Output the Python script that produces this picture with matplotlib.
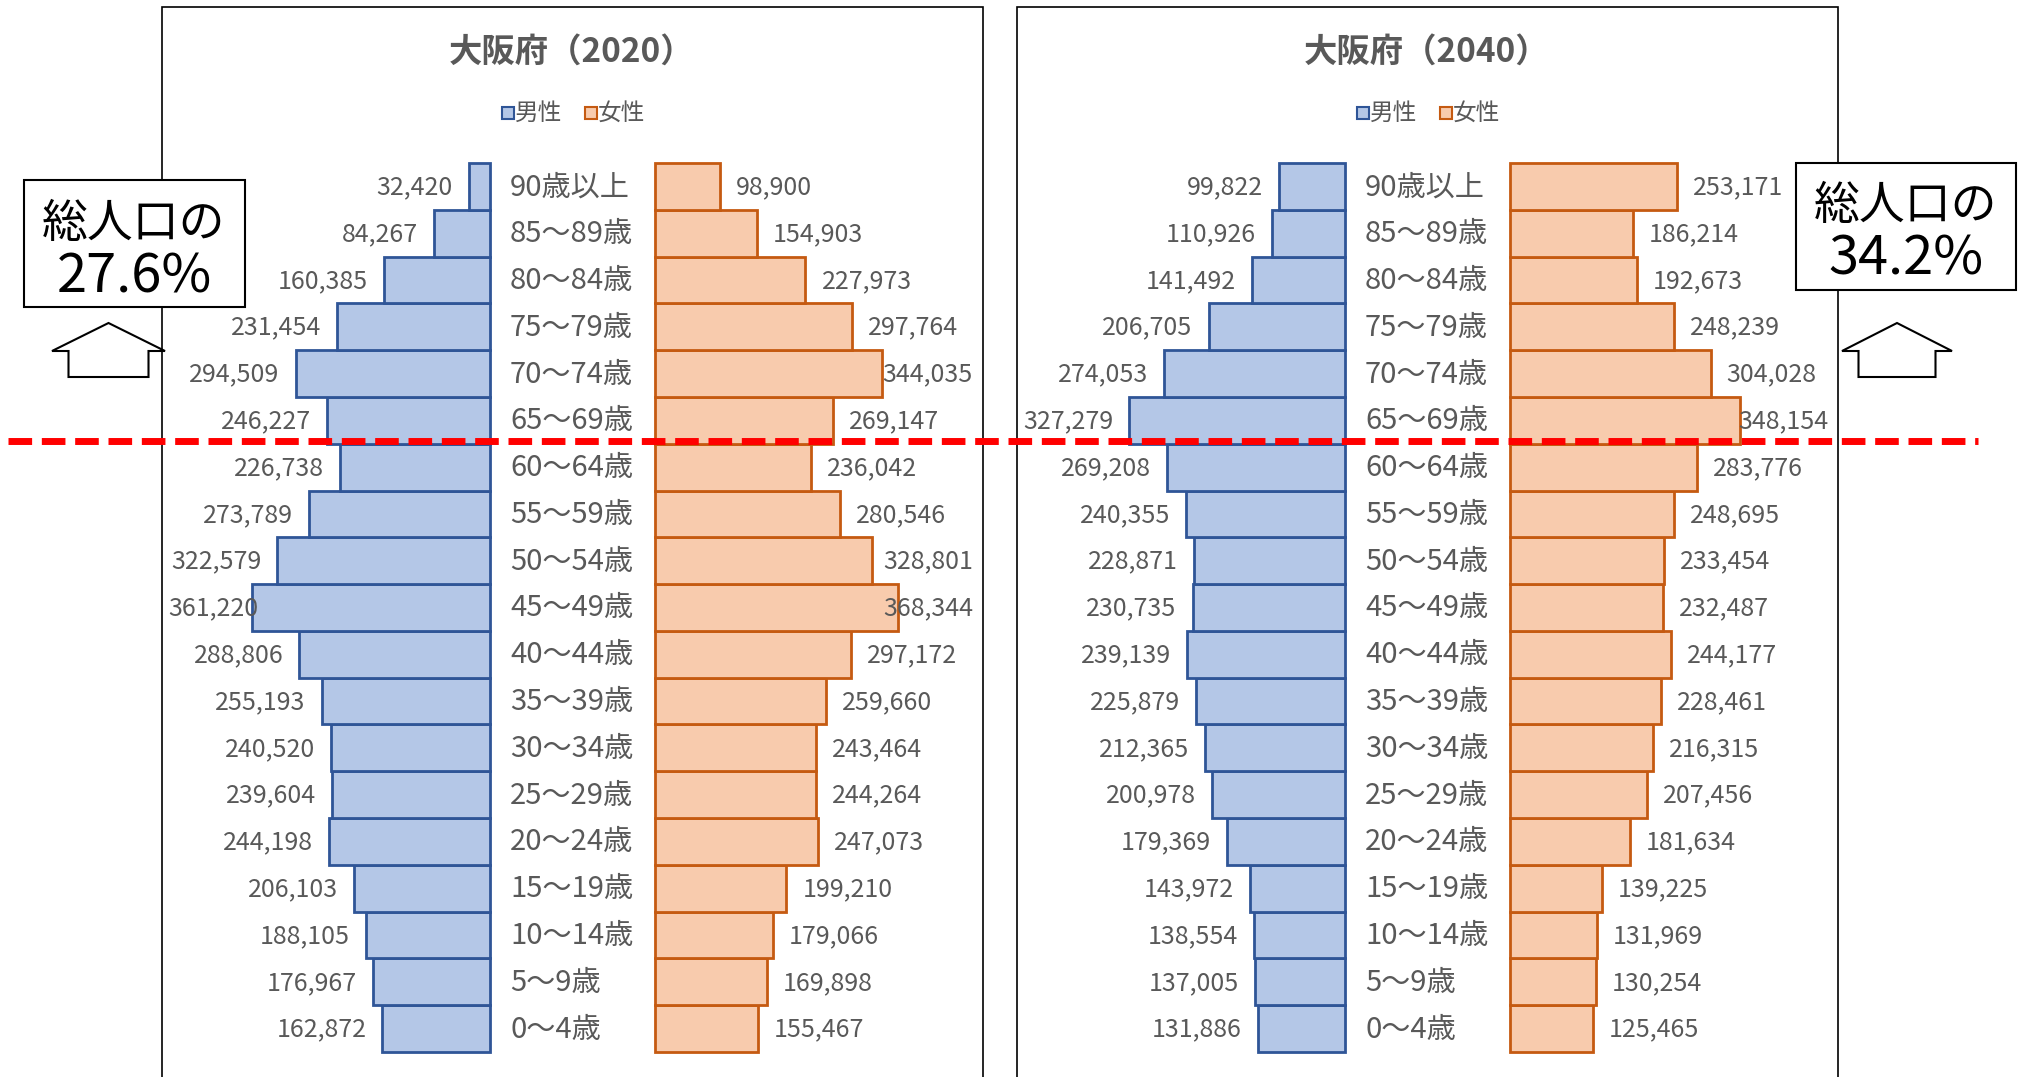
import matplotlib
matplotlib.use('Agg')
import matplotlib.pyplot as plt
from matplotlib.patches import Rectangle, Polygon
from matplotlib.lines import Line2D
from matplotlib.transforms import IdentityTransform

plt.rcParams['font.family'] = ['Noto Sans CJK JP', 'DejaVu Sans']
plt.rcParams['lines.scale_dashes'] = False

# 年齢階級（下から上へ）
ages = ['0～4歳', '5～9歳', '10～14歳', '15～19歳', '20～24歳', '25～29歳',
        '30～34歳', '35～39歳', '40～44歳', '45～49歳', '50～54歳', '55～59歳',
        '60～64歳', '65～69歳', '70～74歳', '75～79歳', '80～84歳', '85～89歳',
        '90歳以上']

male_2020 = [162872, 176967, 188105, 206103, 244198, 239604, 240520, 255193,
             288806, 361220, 322579, 273789, 226738, 246227, 294509, 231454,
             160385, 84267, 32420]
female_2020 = [155467, 169898, 179066, 199210, 247073, 244264, 243464, 259660,
               297172, 368344, 328801, 280546, 236042, 269147, 344035, 297764,
               227973, 154903, 98900]
male_2040 = [131886, 137005, 138554, 143972, 179369, 200978, 212365, 225879,
             239139, 230735, 228871, 240355, 269208, 327279, 274053, 206705,
             141492, 110926, 99822]
female_2040 = [125465, 130254, 131969, 139225, 181634, 207456, 216315, 228461,
               244177, 232487, 233454, 248695, 283776, 348154, 304028, 248239,
               192673, 186214, 253171]

titles = ['大阪府（2020）', '大阪府（2040）']
elderly_share = ['27.6%', '34.2%']

W, H = 2026, 1077
fig = plt.figure(figsize=(W / 100, H / 100), dpi=100)


def fx(x):
    return x / W


def fy(y):
    return 1 - y / H


GRAY = '#595959'
M_FILL, M_EDGE = '#B4C7E7', '#2F5597'
F_FILL, F_EDGE = '#F8CBAD', '#C55A11'
PER_PX = 1515          # 人/ピクセル
TOP, BOT = 163, 1052   # 棒グラフ領域の上下


def panel(x0, title, male, female):
    fig.add_artist(Rectangle((fx(x0), fy(1090)), 821 / W, (1090 - 7) / H,
                             transform=fig.transFigure, fill=False,
                             edgecolor='black', lw=1.2))
    fig.text(fx(x0 + 410), fy(52), title, ha='center', va='center',
             fontsize=24, color=GRAY, fontweight='bold')

    # 凡例
    for dx, lab, fc, ec in [(340, '男性', M_FILL, M_EDGE), (423, '女性', F_FILL, F_EDGE)]:
        fig.add_artist(Rectangle((fx(x0 + dx), fy(119)), 12 / W, 12 / H,
                                 transform=fig.transFigure, facecolor=fc,
                                 edgecolor=ec, lw=1.5))
        fig.text(fx(x0 + dx + 13), fy(113), lab, ha='left', va='center',
                 fontsize=17, color=GRAY)

    axm = fig.add_axes([fx(x0 + 6), fy(BOT), 322 / W, (BOT - TOP) / H])
    axf = fig.add_axes([fx(x0 + 493), fy(BOT), 318 / W, (BOT - TOP) / H])
    y = range(len(ages))
    axm.barh(y, male, height=1.0, color=M_FILL, edgecolor=M_EDGE, lw=2, clip_on=False)
    axf.barh(y, female, height=1.0, color=F_FILL, edgecolor=F_EDGE, lw=2, clip_on=False)
    axm.set_xlim(322 * PER_PX, 0)
    axf.set_xlim(0, 318 * PER_PX)
    for ax in (axm, axf):
        ax.set_ylim(-0.5, len(ages) - 0.5)
        ax.axis('off')

    for i, a in enumerate(ages):
        fig.text(fx(x0 + 348), fy(BOT + 1 - (i + 0.5) * (BOT - TOP) / len(ages)), a,
                 ha='left', va='center', fontsize=21, color=GRAY)
    return axm, axf


def place_labels(axm, axf, male, female):
    r = fig.canvas.get_renderer()
    bm = axm.get_window_extent(r)
    bf = axf.get_window_extent(r)
    for i, (m, f) in enumerate(zip(male, female)):
        xm, ym = axm.transData.transform((m, i))
        t = fig.text(0, ym - 1, f'{m:,}', transform=IdentityTransform(), ha='left',
                     va='center', fontsize=18, color=GRAY)
        w = t.get_window_extent(r).width
        t.set_x(max(xm - 16 - w, bm.x0))
        xf, yf = axf.transData.transform((f, i))
        t = fig.text(0, yf - 1, f'{f:,}', transform=IdentityTransform(), ha='left',
                     va='center', fontsize=18, color=GRAY)
        w = t.get_window_extent(r).width
        t.set_x(min(xf + 16, bf.x1 - w))


axes = [panel(162, titles[0], male_2020, female_2020),
        panel(1017, titles[1], male_2040, female_2040)]
fig.canvas.draw()
place_labels(*axes[0], male_2020, female_2020)
place_labels(*axes[1], male_2040, female_2040)


def callout(bx0, bx1, by0, by1, cx, ty, text, ax0, ax1):
    fig.add_artist(Rectangle((fx(bx0), fy(by1)), (bx1 - bx0) / W, (by1 - by0) / H,
                             transform=fig.transFigure, facecolor='white',
                             edgecolor='black', lw=1.5, zorder=5))
    fig.text(fx(cx), fy(ty), '総人口の', ha='center', va='center',
             fontsize=33, color='black', zorder=6)
    fig.text(fx(cx), fy(ty + 53), text, ha='center', va='center',
             fontsize=39, color='black', zorder=6)
    # 上向き矢印
    mid = (ax0 + ax1) / 2
    s0, s1 = ax0 + 16.5, ax1 - 16.5
    pts = [(mid, 323), (ax1, 351), (s1, 351), (s1, 377), (s0, 377), (s0, 351), (ax0, 351)]
    fig.add_artist(Polygon([(fx(p), fy(q)) for p, q in pts], closed=True,
                           transform=fig.transFigure, facecolor='white',
                           edgecolor='black', lw=1.5, zorder=5))


callout(24, 245, 180, 307, 134, 224, elderly_share[0], 52, 165)
callout(1796, 2016, 163, 290, 1906, 206, elderly_share[1], 1842, 1952)

# 65歳以上の区切り線
fig.add_artist(Line2D([fx(8), fx(1978)], [fy(440.5), fy(440.5)],
                      transform=fig.transFigure, color='red', lw=5,
                      dashes=(17, 7), solid_capstyle='butt',
                      dash_capstyle='butt', zorder=10))

fig.savefig('out.png', dpi=100)
